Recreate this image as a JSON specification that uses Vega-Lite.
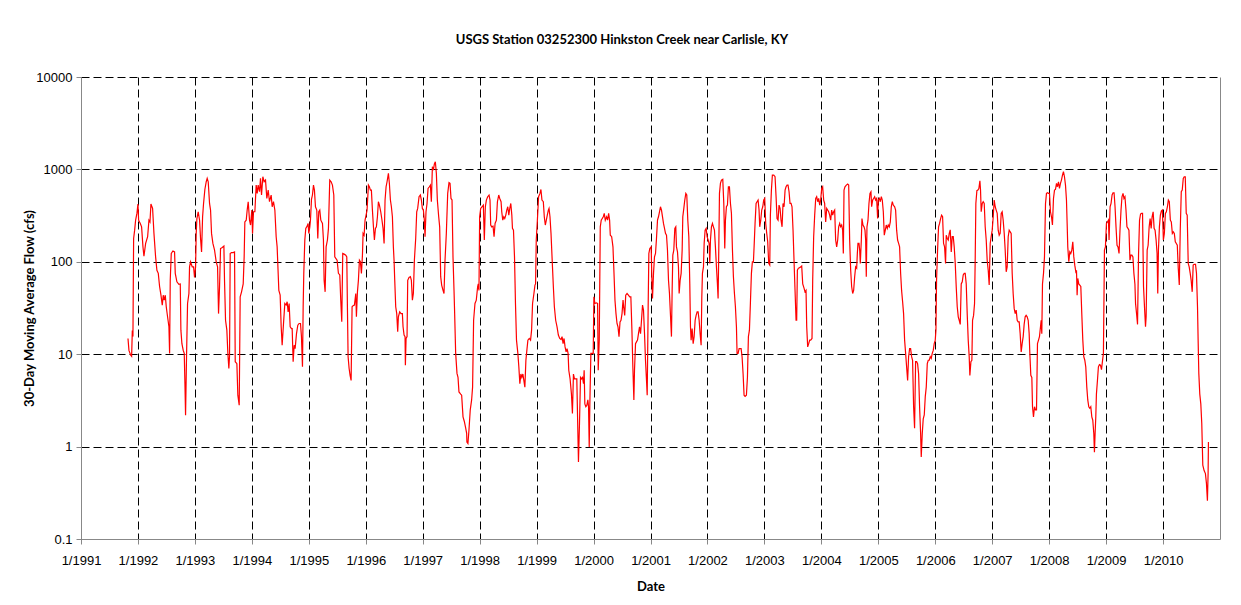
{
"$schema": "https://vega.github.io/schema/vega-lite/v6.json",
"width": 1139,
"height": 462,
"autosize": {"type": "none"},
"padding": {"left": 81, "top": 77, "right": 21, "bottom": 66},
"background": "white",
"title": {"text": "USGS Station 03252300 Hinkston Creek near Carlisle, KY", "font": "Lato", "fontSize": 13, "fontWeight": "bold", "color": "#000", "anchor": "middle", "frame": "bounds", "offset": 24},
"config": {"view": {"stroke": null}},
"data": {"values": [
{"year":1991.825,"flow":14.8},{"year":1991.842,"flow":11},{"year":1991.871,"flow":9.8},{"year":1991.889,"flow":9.5},{"year":1991.901,"flow":18},{"year":1991.912,"flow":15.5},{"year":1991.924,"flow":179},{"year":1991.942,"flow":220},{"year":1991.959,"flow":282},{"year":1991.982,"flow":334},{"year":1992.0,"flow":422},{"year":1992.012,"flow":282},{"year":1992.041,"flow":260},{"year":1992.064,"flow":239},{"year":1992.088,"flow":145},{"year":1992.105,"flow":115},{"year":1992.135,"flow":158},{"year":1992.17,"flow":187},{"year":1992.193,"flow":282},{"year":1992.211,"flow":270},{"year":1992.228,"flow":422},{"year":1992.257,"flow":378},{"year":1992.281,"flow":203},{"year":1992.31,"flow":113},{"year":1992.333,"flow":81},{"year":1992.357,"flow":75},{"year":1992.38,"flow":54},{"year":1992.404,"flow":43.5},{"year":1992.427,"flow":34},{"year":1992.444,"flow":43.5},{"year":1992.462,"flow":38.5},{"year":1992.48,"flow":43.5},{"year":1992.497,"flow":32.6},{"year":1992.52,"flow":25.4},{"year":1992.544,"flow":19.8},{"year":1992.556,"flow":10.2},{"year":1992.567,"flow":63},{"year":1992.585,"flow":123},{"year":1992.614,"flow":131},{"year":1992.643,"flow":128},{"year":1992.655,"flow":75},{"year":1992.684,"flow":60.7},{"year":1992.719,"flow":57},{"year":1992.743,"flow":57.6},{"year":1992.754,"flow":18.2},{"year":1992.772,"flow":13},{"year":1992.795,"flow":11},{"year":1992.813,"flow":10.2},{"year":1992.825,"flow":4.8},{"year":1992.836,"flow":2.18},{"year":1992.854,"flow":10.2},{"year":1992.871,"flow":35.4},{"year":1992.895,"flow":45.4},{"year":1992.906,"flow":88},{"year":1992.924,"flow":100},{"year":1992.953,"flow":88},{"year":1992.977,"flow":88},{"year":1992.994,"flow":67.6},{"year":1993.012,"flow":88},{"year":1993.023,"flow":203},{"year":1993.035,"flow":294},{"year":1993.058,"flow":348},{"year":1993.082,"flow":282},{"year":1993.099,"flow":179},{"year":1993.117,"flow":128},{"year":1993.135,"flow":307},{"year":1993.152,"flow":428},{"year":1993.175,"flow":606},{"year":1993.199,"flow":735},{"year":1993.216,"flow":800},{"year":1993.234,"flow":735},{"year":1993.257,"flow":428},{"year":1993.275,"flow":363},{"year":1993.292,"flow":203},{"year":1993.316,"flow":158},{"year":1993.345,"flow":134},{"year":1993.374,"flow":100},{"year":1993.398,"flow":88},{"year":1993.415,"flow":27.5},{"year":1993.433,"flow":54},{"year":1993.45,"flow":139},{"year":1993.48,"flow":143},{"year":1993.509,"flow":148},{"year":1993.52,"flow":63},{"year":1993.538,"flow":23.3},{"year":1993.561,"flow":18.2},{"year":1993.579,"flow":10.2},{"year":1993.596,"flow":7},{"year":1993.608,"flow":9.5},{"year":1993.62,"flow":123},{"year":1993.643,"flow":126},{"year":1993.673,"flow":126},{"year":1993.696,"flow":128},{"year":1993.708,"flow":8.3},{"year":1993.737,"flow":7.9},{"year":1993.754,"flow":3.6},{"year":1993.778,"flow":2.8},{"year":1993.795,"flow":41.8},{"year":1993.819,"flow":47.3},{"year":1993.848,"flow":57.6},{"year":1993.865,"flow":113},{"year":1993.877,"flow":270},{"year":1993.901,"flow":282},{"year":1993.918,"flow":363},{"year":1993.936,"flow":447},{"year":1993.959,"flow":282},{"year":1993.977,"flow":250},{"year":1994.0,"flow":363},{"year":1994.012,"flow":203},{"year":1994.029,"flow":348},{"year":1994.053,"flow":348},{"year":1994.076,"flow":676},{"year":1994.094,"flow":550},{"year":1994.111,"flow":676},{"year":1994.135,"flow":573},{"year":1994.152,"flow":800},{"year":1994.17,"flow":528},{"year":1994.193,"flow":833},{"year":1994.216,"flow":735},{"year":1994.24,"flow":766},{"year":1994.263,"flow":485},{"year":1994.287,"flow":597},{"year":1994.31,"flow":447},{"year":1994.339,"flow":528},{"year":1994.357,"flow":394},{"year":1994.38,"flow":447},{"year":1994.404,"flow":363},{"year":1994.427,"flow":187},{"year":1994.444,"flow":145},{"year":1994.474,"flow":49},{"year":1994.497,"flow":43.5},{"year":1994.515,"flow":19.8},{"year":1994.532,"flow":12.5},{"year":1994.556,"flow":21.5},{"year":1994.579,"flow":35.4},{"year":1994.602,"flow":34},{"year":1994.62,"flow":37},{"year":1994.637,"flow":28.7},{"year":1994.655,"flow":35.4},{"year":1994.673,"flow":19.8},{"year":1994.696,"flow":18.9},{"year":1994.708,"flow":18.9},{"year":1994.725,"flow":8.3},{"year":1994.743,"flow":12.5},
{"year":1994.76,"flow":11.5},{"year":1994.784,"flow":16.7},{"year":1994.807,"flow":20.6},{"year":1994.83,"flow":21.5},{"year":1994.854,"flow":21.5},{"year":1994.871,"flow":15.5},{"year":1994.889,"flow":7.3},{"year":1994.901,"flow":32.6},{"year":1994.912,"flow":75},{"year":1994.93,"flow":172},{"year":1994.947,"flow":230},{"year":1994.971,"flow":243},{"year":1994.988,"flow":260},{"year":1995.0,"flow":203},{"year":1995.018,"flow":239},{"year":1995.029,"flow":282},{"year":1995.047,"flow":473},{"year":1995.064,"flow":528},{"year":1995.082,"flow":676},{"year":1995.099,"flow":597},{"year":1995.117,"flow":394},{"year":1995.14,"flow":363},{"year":1995.158,"flow":179},{"year":1995.175,"flow":348},{"year":1995.193,"flow":363},{"year":1995.211,"flow":282},{"year":1995.24,"flow":260},{"year":1995.257,"flow":172},{"year":1995.269,"flow":63},{"year":1995.287,"flow":47.3},{"year":1995.304,"flow":145},{"year":1995.327,"flow":172},{"year":1995.345,"flow":230},{"year":1995.368,"flow":766},{"year":1995.392,"flow":735},{"year":1995.415,"flow":676},{"year":1995.439,"flow":528},{"year":1995.456,"flow":113},{"year":1995.474,"flow":109},{"year":1995.497,"flow":104},{"year":1995.52,"flow":75},{"year":1995.544,"flow":72},{"year":1995.561,"flow":38.5},{"year":1995.579,"flow":22.4},{"year":1995.596,"flow":123},{"year":1995.62,"flow":121},{"year":1995.649,"flow":118},{"year":1995.667,"flow":113},{"year":1995.678,"flow":32.6},{"year":1995.69,"flow":9.4},{"year":1995.708,"flow":7},{"year":1995.725,"flow":5.9},{"year":1995.743,"flow":5.2},{"year":1995.76,"flow":32.6},{"year":1995.778,"flow":33.5},{"year":1995.801,"flow":34},{"year":1995.825,"flow":45.4},{"year":1995.836,"flow":25.4},{"year":1995.854,"flow":47.3},{"year":1995.871,"flow":63},{"year":1995.889,"flow":104},{"year":1995.906,"flow":100},{"year":1995.924,"flow":75},{"year":1995.942,"flow":118},{"year":1995.953,"flow":203},{"year":1995.971,"flow":194},{"year":1995.988,"flow":282},{"year":1996.006,"flow":320},{"year":1996.023,"flow":363},{"year":1996.047,"flow":676},{"year":1996.064,"flow":649},{"year":1996.082,"flow":597},{"year":1996.099,"flow":597},{"year":1996.117,"flow":363},{"year":1996.135,"flow":239},{"year":1996.152,"flow":172},{"year":1996.17,"flow":230},{"year":1996.187,"flow":239},{"year":1996.205,"flow":307},{"year":1996.222,"flow":447},{"year":1996.24,"flow":411},{"year":1996.263,"flow":348},{"year":1996.281,"flow":294},{"year":1996.304,"flow":230},{"year":1996.322,"flow":158},{"year":1996.339,"flow":466},{"year":1996.357,"flow":649},{"year":1996.374,"flow":735},{"year":1996.398,"flow":906},{"year":1996.415,"flow":705},{"year":1996.433,"flow":466},{"year":1996.45,"flow":394},{"year":1996.468,"flow":307},{"year":1996.485,"flow":145},{"year":1996.497,"flow":104},{"year":1996.509,"flow":63},{"year":1996.526,"flow":32.6},{"year":1996.544,"flow":27.5},{"year":1996.561,"flow":17.5},{"year":1996.573,"flow":25.4},{"year":1996.596,"flow":28.7},{"year":1996.62,"flow":27.5},{"year":1996.643,"flow":27.5},{"year":1996.655,"flow":19.8},{"year":1996.673,"flow":16.1},{"year":1996.69,"flow":15.5},{"year":1996.696,"flow":7.6},{"year":1996.708,"flow":14.8},{"year":1996.725,"flow":15.5},{"year":1996.737,"flow":63},{"year":1996.76,"flow":67.6},{"year":1996.784,"flow":69},{"year":1996.801,"flow":63},{"year":1996.819,"flow":38.5},{"year":1996.836,"flow":45.4},{"year":1996.854,"flow":104},{"year":1996.877,"flow":179},{"year":1996.895,"flow":348},{"year":1996.912,"flow":378},{"year":1996.936,"flow":506},{"year":1996.959,"flow":528},{"year":1996.977,"flow":466},{"year":1996.994,"flow":378},{"year":1997.012,"flow":363},{"year":1997.029,"flow":282},{"year":1997.041,"flow":187},{"year":1997.058,"flow":348},{"year":1997.076,"flow":428},{"year":1997.094,"flow":622},{"year":1997.117,"flow":649},{"year":1997.135,"flow":676},{"year":1997.152,"flow":447},{"year":1997.17,"flow":1069},{"year":1997.187,"flow":984},{"year":1997.205,"flow":1143},{"year":1997.222,"flow":1211},{"year":1997.24,"flow":906},{"year":1997.257,"flow":466},{"year":1997.281,"flow":307},{"year":1997.298,"flow":239},{"year":1997.316,"flow":69},{"year":1997.333,"flow":56},{"year":1997.357,"flow":49},{"year":1997.374,"flow":45.4},{"year":1997.392,"flow":104},{"year":1997.415,"flow":203},{"year":1997.439,"flow":550},{"year":1997.462,"flow":718},{"year":1997.48,"flow":705},{"year":1997.497,"flow":485},{"year":1997.515,"flow":466},{"year":1997.532,"flow":113},{"year":1997.55,"flow":49},{"year":1997.561,"flow":27.5},{"year":1997.579,"flow":10.2},{"year":1997.602,"flow":6.2},{"year":1997.62,"flow":5.6},{"year":1997.637,"flow":3.9},{"year":1997.667,"flow":3.7},{"year":1997.684,"flow":3.6},{"year":1997.708,"flow":2.1},{"year":1997.731,"flow":1.87},{"year":1997.754,"flow":1.59},{"year":1997.772,"flow":1.39},
{"year":1997.776,"flow":1.12},{"year":1997.794,"flow":1.08},{"year":1997.812,"flow":1.5},{"year":1997.835,"flow":2.5},{"year":1997.859,"flow":3.2},{"year":1997.876,"flow":4.4},{"year":1997.894,"flow":23.3},{"year":1997.918,"flow":35.4},{"year":1997.941,"flow":38.5},{"year":1997.965,"flow":54},{"year":1997.976,"flow":57.6},{"year":1997.988,"flow":49},{"year":1998.0,"flow":307},{"year":1998.018,"flow":378},{"year":1998.041,"flow":394},{"year":1998.065,"flow":411},{"year":1998.082,"flow":172},{"year":1998.1,"flow":394},{"year":1998.118,"flow":466},{"year":1998.141,"flow":506},{"year":1998.165,"flow":528},{"year":1998.182,"flow":466},{"year":1998.194,"flow":250},{"year":1998.212,"flow":239},{"year":1998.235,"flow":243},{"year":1998.253,"flow":187},{"year":1998.271,"flow":260},{"year":1998.294,"flow":282},{"year":1998.312,"flow":447},{"year":1998.335,"flow":528},{"year":1998.353,"flow":485},{"year":1998.376,"flow":447},{"year":1998.388,"flow":348},{"year":1998.406,"flow":282},{"year":1998.424,"flow":307},{"year":1998.441,"flow":294},{"year":1998.459,"flow":320},{"year":1998.476,"flow":363},{"year":1998.494,"flow":394},{"year":1998.512,"flow":320},{"year":1998.529,"flow":378},{"year":1998.547,"flow":428},{"year":1998.565,"flow":320},{"year":1998.576,"flow":230},{"year":1998.594,"flow":220},{"year":1998.612,"flow":113},{"year":1998.629,"flow":35.4},{"year":1998.647,"flow":14.2},{"year":1998.671,"flow":10.2},{"year":1998.688,"flow":7.3},{"year":1998.706,"flow":4.8},{"year":1998.724,"flow":6.1},{"year":1998.741,"flow":5.6},{"year":1998.759,"flow":6.1},{"year":1998.776,"flow":5.2},{"year":1998.794,"flow":4.4},{"year":1998.812,"flow":8.6},{"year":1998.829,"flow":11},{"year":1998.847,"flow":14.2},{"year":1998.871,"flow":14.8},{"year":1998.894,"flow":14.2},{"year":1998.912,"flow":18.2},{"year":1998.929,"flow":35.4},{"year":1998.953,"flow":45.4},{"year":1998.971,"flow":56},{"year":1998.982,"flow":57.6},{"year":1998.994,"flow":172},{"year":1999.012,"flow":270},{"year":1999.035,"flow":506},{"year":1999.059,"flow":550},{"year":1999.076,"flow":606},{"year":1999.094,"flow":466},{"year":1999.118,"flow":447},{"year":1999.135,"flow":307},{"year":1999.153,"flow":250},{"year":1999.171,"flow":282},{"year":1999.188,"flow":320},{"year":1999.206,"flow":363},{"year":1999.218,"flow":378},{"year":1999.235,"flow":307},{"year":1999.253,"flow":203},{"year":1999.271,"flow":113},{"year":1999.294,"flow":54},{"year":1999.312,"flow":32.6},{"year":1999.335,"flow":23.3},{"year":1999.359,"flow":19.8},{"year":1999.382,"flow":16.1},{"year":1999.406,"flow":14.8},{"year":1999.429,"flow":14.4},{"year":1999.447,"flow":15.5},{"year":1999.465,"flow":13},{"year":1999.482,"flow":14.8},{"year":1999.5,"flow":12},{"year":1999.518,"flow":10.6},{"year":1999.535,"flow":11.5},{"year":1999.553,"flow":10.2},{"year":1999.565,"flow":6.7},{"year":1999.588,"flow":5.4},{"year":1999.612,"flow":3.7},{"year":1999.629,"flow":2.28},{"year":1999.647,"flow":6.1},{"year":1999.665,"flow":5.4},{"year":1999.682,"flow":5.4},{"year":1999.706,"flow":5.4},{"year":1999.724,"flow":1.5},{"year":1999.735,"flow":0.68},{"year":1999.753,"flow":1.77},{"year":1999.771,"flow":5.6},{"year":1999.788,"flow":5.4},{"year":1999.806,"flow":5.6},{"year":1999.824,"flow":4.8},{"year":1999.835,"flow":6.7},{"year":1999.847,"flow":2.9},{"year":1999.865,"flow":2.7},{"year":1999.882,"flow":2.8},{"year":1999.9,"flow":3.2},{"year":1999.912,"flow":2.7},{"year":1999.924,"flow":0.99},{"year":1999.935,"flow":2.9},{"year":1999.953,"flow":10.2},{"year":1999.971,"flow":10.2},{"year":1999.994,"flow":10.2},{"year":2000.006,"flow":41.8},{"year":2000.024,"flow":35.4},{"year":2000.047,"flow":36},{"year":2000.071,"flow":35.4},{"year":2000.082,"flow":6.7},{"year":2000.1,"flow":14.2},{"year":2000.118,"flow":239},{"year":2000.135,"flow":282},{"year":2000.153,"flow":294},{"year":2000.171,"flow":307},{"year":2000.188,"flow":334},{"year":2000.206,"flow":282},{"year":2000.229,"flow":307},{"year":2000.247,"flow":282},{"year":2000.265,"flow":334},{"year":2000.282,"flow":282},{"year":2000.294,"flow":194},{"year":2000.318,"flow":187},{"year":2000.341,"flow":145},{"year":2000.359,"flow":75},{"year":2000.376,"flow":38.5},{"year":2000.394,"flow":27.5},{"year":2000.412,"flow":21.5},{"year":2000.429,"flow":19.8},{"year":2000.447,"flow":15.5},{"year":2000.465,"flow":22.4},{"year":2000.482,"flow":23.3},{"year":2000.5,"flow":27.5},{"year":2000.518,"flow":38.5},{"year":2000.529,"flow":32.6},{"year":2000.547,"flow":26.3},{"year":2000.565,"flow":43.5},{"year":2000.588,"flow":45.4},{"year":2000.612,"flow":43.5},{"year":2000.635,"flow":41.8},
{"year":2000.655,"flow":41.8},{"year":2000.673,"flow":18.9},{"year":2000.69,"flow":7.3},{"year":2000.708,"flow":3.2},{"year":2000.719,"flow":6.7},{"year":2000.737,"flow":13},{"year":2000.754,"flow":13.6},{"year":2000.772,"flow":14.2},{"year":2000.789,"flow":16.7},{"year":2000.807,"flow":19.8},{"year":2000.825,"flow":16.7},{"year":2000.842,"flow":23.3},{"year":2000.86,"flow":34},{"year":2000.877,"flow":30.1},{"year":2000.895,"flow":16.7},{"year":2000.912,"flow":8.6},{"year":2000.93,"flow":5.2},{"year":2000.942,"flow":3.6},{"year":2000.959,"flow":32.6},{"year":2000.971,"flow":123},{"year":2000.988,"flow":139},{"year":2001.012,"flow":145},{"year":2001.023,"flow":69},{"year":2001.035,"flow":40},{"year":2001.053,"flow":75},{"year":2001.07,"flow":113},{"year":2001.088,"flow":123},{"year":2001.105,"flow":179},{"year":2001.123,"flow":282},{"year":2001.14,"flow":307},{"year":2001.158,"flow":348},{"year":2001.175,"flow":394},{"year":2001.193,"flow":363},{"year":2001.211,"flow":307},{"year":2001.228,"flow":260},{"year":2001.246,"flow":230},{"year":2001.263,"flow":203},{"year":2001.281,"flow":194},{"year":2001.298,"flow":134},{"year":2001.316,"flow":63},{"year":2001.333,"flow":45.4},{"year":2001.351,"flow":26.3},{"year":2001.368,"flow":15.5},{"year":2001.38,"flow":49},{"year":2001.392,"flow":118},{"year":2001.409,"flow":134},{"year":2001.427,"flow":230},{"year":2001.444,"flow":239},{"year":2001.456,"flow":145},{"year":2001.474,"flow":128},{"year":2001.491,"flow":88},{"year":2001.503,"flow":45.4},{"year":2001.52,"flow":63},{"year":2001.538,"flow":75},{"year":2001.556,"flow":134},{"year":2001.567,"flow":307},{"year":2001.585,"flow":378},{"year":2001.602,"flow":466},{"year":2001.62,"flow":550},{"year":2001.637,"flow":528},{"year":2001.655,"flow":282},{"year":2001.673,"flow":187},{"year":2001.69,"flow":57.6},{"year":2001.702,"flow":19.8},{"year":2001.713,"flow":14.2},{"year":2001.731,"flow":18.9},{"year":2001.749,"flow":13},{"year":2001.766,"flow":15.5},{"year":2001.784,"flow":23.3},{"year":2001.801,"flow":26.3},{"year":2001.819,"flow":28.7},{"year":2001.836,"flow":28.7},{"year":2001.854,"flow":23.3},{"year":2001.871,"flow":16.7},{"year":2001.889,"flow":12.5},{"year":2001.901,"flow":41.8},{"year":2001.912,"flow":75},{"year":2001.93,"flow":88},{"year":2001.942,"flow":158},{"year":2001.959,"flow":220},{"year":2001.977,"flow":230},{"year":2001.994,"flow":187},{"year":2002.012,"flow":172},{"year":2002.029,"flow":158},{"year":2002.041,"flow":96},{"year":2002.053,"flow":172},{"year":2002.07,"flow":239},{"year":2002.088,"flow":260},{"year":2002.105,"flow":239},{"year":2002.123,"flow":220},{"year":2002.14,"flow":145},{"year":2002.158,"flow":88},{"year":2002.175,"flow":57.6},{"year":2002.187,"flow":40},{"year":2002.199,"flow":134},{"year":2002.211,"flow":550},{"year":2002.228,"flow":705},{"year":2002.246,"flow":766},{"year":2002.269,"flow":780},{"year":2002.287,"flow":428},{"year":2002.304,"flow":139},{"year":2002.316,"flow":282},{"year":2002.333,"flow":394},{"year":2002.351,"flow":411},{"year":2002.368,"flow":649},{"year":2002.386,"flow":649},{"year":2002.404,"flow":428},{"year":2002.421,"flow":334},{"year":2002.439,"flow":134},{"year":2002.456,"flow":69},{"year":2002.474,"flow":45.4},{"year":2002.491,"flow":32.6},{"year":2002.509,"flow":19.8},{"year":2002.52,"flow":10.2},{"year":2002.538,"flow":10.2},{"year":2002.556,"flow":11.5},{"year":2002.573,"flow":11.5},{"year":2002.591,"flow":11.5},{"year":2002.608,"flow":9.4},{"year":2002.626,"flow":6.1},{"year":2002.643,"flow":3.6},{"year":2002.661,"flow":3.5},{"year":2002.684,"flow":3.6},{"year":2002.702,"flow":5.6},{"year":2002.719,"flow":15.5},{"year":2002.737,"flow":18.2},{"year":2002.754,"flow":35.4},{"year":2002.772,"flow":75},{"year":2002.789,"flow":100},{"year":2002.807,"flow":100},{"year":2002.819,"flow":145},{"year":2002.836,"flow":260},{"year":2002.854,"flow":428},{"year":2002.871,"flow":447},{"year":2002.889,"flow":466},{"year":2002.906,"flow":363},{"year":2002.918,"flow":239},{"year":2002.936,"flow":282},{"year":2002.953,"flow":363},{"year":2002.971,"flow":394},{"year":2002.988,"flow":466},{"year":2003.006,"flow":485},{"year":2003.023,"flow":260},{"year":2003.041,"flow":203},{"year":2003.058,"flow":165},{"year":2003.076,"flow":96},{"year":2003.094,"flow":92},{"year":2003.105,"flow":320},{"year":2003.123,"flow":597},{"year":2003.14,"flow":869},{"year":2003.164,"flow":869},{"year":2003.187,"flow":833},{"year":2003.205,"flow":506},{"year":2003.222,"flow":294},{"year":2003.24,"flow":282},{"year":2003.257,"flow":411},{"year":2003.275,"flow":378},{"year":2003.292,"flow":282},{"year":2003.31,"flow":239},{"year":2003.327,"flow":428},{"year":2003.345,"flow":394},{"year":2003.363,"flow":597},{"year":2003.38,"flow":649},{"year":2003.398,"flow":676},{"year":2003.415,"flow":676},{"year":2003.433,"flow":573},{"year":2003.45,"flow":428},{"year":2003.468,"flow":428},{"year":2003.485,"flow":394},{"year":2003.503,"flow":220},{"year":2003.52,"flow":104},{"year":2003.538,"flow":49},{"year":2003.556,"flow":23.3},{"year":2003.567,"flow":23.3},{"year":2003.579,"flow":81},{"year":2003.596,"flow":85},
{"year":2003.626,"flow":87},{"year":2003.655,"flow":90},{"year":2003.673,"flow":57.6},{"year":2003.696,"flow":52},{"year":2003.713,"flow":47.3},{"year":2003.731,"flow":49},{"year":2003.743,"flow":19.8},{"year":2003.76,"flow":12},{"year":2003.778,"flow":13},{"year":2003.795,"flow":14.2},{"year":2003.813,"flow":14.2},{"year":2003.836,"flow":14.8},{"year":2003.848,"flow":63},{"year":2003.865,"flow":187},{"year":2003.883,"flow":320},{"year":2003.901,"flow":485},{"year":2003.918,"flow":506},{"year":2003.936,"flow":447},{"year":2003.953,"flow":485},{"year":2003.971,"flow":411},{"year":2003.988,"flow":466},{"year":2004.006,"flow":622},{"year":2004.023,"flow":649},{"year":2004.041,"flow":466},{"year":2004.058,"flow":428},{"year":2004.076,"flow":270},{"year":2004.094,"flow":378},{"year":2004.111,"flow":363},{"year":2004.129,"flow":348},{"year":2004.146,"flow":320},{"year":2004.164,"flow":282},{"year":2004.181,"flow":363},{"year":2004.199,"flow":320},{"year":2004.216,"flow":348},{"year":2004.234,"flow":363},{"year":2004.251,"flow":172},{"year":2004.269,"flow":145},{"year":2004.287,"flow":172},{"year":2004.304,"flow":239},{"year":2004.322,"flow":260},{"year":2004.339,"flow":239},{"year":2004.357,"flow":250},{"year":2004.374,"flow":220},{"year":2004.386,"flow":123},{"year":2004.398,"flow":597},{"year":2004.415,"flow":649},{"year":2004.439,"flow":676},{"year":2004.462,"flow":693},{"year":2004.48,"flow":676},{"year":2004.497,"flow":172},{"year":2004.515,"flow":81},{"year":2004.532,"flow":54},{"year":2004.55,"flow":45.4},{"year":2004.567,"flow":49},{"year":2004.585,"flow":69},{"year":2004.602,"flow":88},{"year":2004.62,"flow":85},{"year":2004.632,"flow":123},{"year":2004.643,"flow":158},{"year":2004.661,"flow":158},{"year":2004.673,"flow":134},{"year":2004.684,"flow":96},{"year":2004.702,"flow":172},{"year":2004.713,"flow":294},{"year":2004.731,"flow":250},{"year":2004.749,"flow":239},{"year":2004.766,"flow":220},{"year":2004.778,"flow":172},{"year":2004.789,"flow":69},{"year":2004.801,"flow":239},{"year":2004.819,"flow":282},{"year":2004.836,"flow":428},{"year":2004.854,"flow":550},{"year":2004.871,"flow":573},{"year":2004.883,"flow":394},{"year":2004.901,"flow":466},{"year":2004.918,"flow":485},{"year":2004.936,"flow":506},{"year":2004.953,"flow":466},{"year":2004.971,"flow":485},{"year":2004.988,"flow":294},{"year":2005.0,"flow":466},{"year":2005.018,"flow":485},{"year":2005.035,"flow":447},{"year":2005.053,"flow":506},{"year":2005.07,"flow":466},{"year":2005.088,"flow":348},{"year":2005.105,"flow":194},{"year":2005.123,"flow":220},{"year":2005.14,"flow":250},{"year":2005.158,"flow":230},{"year":2005.175,"flow":250},{"year":2005.193,"flow":239},{"year":2005.211,"flow":270},{"year":2005.228,"flow":394},{"year":2005.246,"flow":447},{"year":2005.263,"flow":411},{"year":2005.287,"flow":394},{"year":2005.304,"flow":363},{"year":2005.322,"flow":220},{"year":2005.339,"flow":172},{"year":2005.357,"flow":158},{"year":2005.374,"flow":145},{"year":2005.392,"flow":75},{"year":2005.409,"flow":49},{"year":2005.427,"flow":37},{"year":2005.444,"flow":27.5},{"year":2005.462,"flow":14.2},{"year":2005.48,"flow":10.2},{"year":2005.497,"flow":7.3},{"year":2005.515,"flow":5.2},{"year":2005.532,"flow":9.4},{"year":2005.55,"flow":11.5},{"year":2005.567,"flow":11.5},{"year":2005.585,"flow":9.4},{"year":2005.602,"flow":8.6},{"year":2005.62,"flow":2.7},{"year":2005.637,"flow":1.58},{"year":2005.655,"flow":8.3},{"year":2005.673,"flow":8.3},{"year":2005.69,"flow":7.9},{"year":2005.708,"flow":6.1},{"year":2005.725,"flow":2.7},{"year":2005.743,"flow":1.39},{"year":2005.754,"flow":0.77},{"year":2005.772,"flow":1.39},{"year":2005.789,"flow":2.0},{"year":2005.807,"flow":2.2},{"year":2005.825,"flow":3.5},{"year":2005.842,"flow":4.4},{"year":2005.86,"flow":7.9},{"year":2005.877,"flow":8.6},{"year":2005.895,"flow":8.6},{"year":2005.912,"flow":9.4},{"year":2005.93,"flow":9.0},{"year":2005.947,"flow":10.2},{"year":2005.965,"flow":11},{"year":2005.982,"flow":13},{"year":2006.0,"flow":14.2},{"year":2006.012,"flow":18.2},{"year":2006.023,"flow":63},{"year":2006.041,"flow":134},{"year":2006.058,"flow":239},{"year":2006.076,"flow":260},{"year":2006.094,"flow":294},{"year":2006.111,"flow":320},{"year":2006.129,"flow":307},{"year":2006.146,"flow":158},{"year":2006.164,"flow":145},{"year":2006.181,"flow":96},{"year":2006.193,"flow":194},{"year":2006.211,"flow":179},{"year":2006.228,"flow":172},{"year":2006.246,"flow":203},{"year":2006.263,"flow":222},{"year":2006.281,"flow":128},{"year":2006.298,"flow":187},{"year":2006.316,"flow":187},{"year":2006.333,"flow":145},{"year":2006.351,"flow":96},{"year":2006.368,"flow":54},{"year":2006.386,"flow":32.6},{"year":2006.404,"flow":25.4},{"year":2006.421,"flow":23.3},{"year":2006.439,"flow":21},{"year":2006.456,"flow":57.6},{"year":2006.474,"flow":60.7},{"year":2006.491,"flow":72},{"year":2006.509,"flow":75},{"year":2006.526,"flow":75},{"year":2006.544,"flow":57.6},{"year":2006.561,"flow":27.5},{"year":2006.579,"flow":14.2},{"year":2006.596,"flow":9.4},
{"year":2006.608,"flow":5.9},{"year":2006.626,"flow":8.3},{"year":2006.643,"flow":8.6},{"year":2006.655,"flow":23.3},{"year":2006.673,"flow":26.3},{"year":2006.69,"flow":35.4},{"year":2006.702,"flow":113},{"year":2006.713,"flow":428},{"year":2006.731,"flow":588},{"year":2006.749,"flow":597},{"year":2006.766,"flow":622},{"year":2006.784,"flow":754},{"year":2006.795,"flow":597},{"year":2006.807,"flow":348},{"year":2006.825,"flow":428},{"year":2006.842,"flow":447},{"year":2006.86,"flow":428},{"year":2006.877,"flow":239},{"year":2006.895,"flow":172},{"year":2006.912,"flow":104},{"year":2006.93,"flow":81},{"year":2006.947,"flow":56},{"year":2006.965,"flow":158},{"year":2006.982,"flow":187},{"year":2007.0,"flow":220},{"year":2007.018,"flow":307},{"year":2007.035,"flow":466},{"year":2007.053,"flow":394},{"year":2007.07,"flow":363},{"year":2007.088,"flow":334},{"year":2007.105,"flow":220},{"year":2007.123,"flow":194},{"year":2007.14,"flow":203},{"year":2007.158,"flow":334},{"year":2007.175,"flow":348},{"year":2007.193,"flow":282},{"year":2007.211,"flow":203},{"year":2007.228,"flow":134},{"year":2007.246,"flow":78},{"year":2007.263,"flow":88},{"year":2007.281,"flow":187},{"year":2007.298,"flow":220},{"year":2007.316,"flow":211},{"year":2007.333,"flow":203},{"year":2007.351,"flow":75},{"year":2007.368,"flow":45.4},{"year":2007.386,"flow":31.3},{"year":2007.404,"flow":27.5},{"year":2007.421,"flow":30},{"year":2007.439,"flow":23.3},{"year":2007.456,"flow":22.4},{"year":2007.474,"flow":22.4},{"year":2007.491,"flow":16.7},{"year":2007.509,"flow":10.6},{"year":2007.526,"flow":13},{"year":2007.544,"flow":15.5},{"year":2007.561,"flow":21},{"year":2007.579,"flow":25.4},{"year":2007.596,"flow":26.3},{"year":2007.614,"flow":25.4},{"year":2007.632,"flow":23.3},{"year":2007.649,"flow":16.7},{"year":2007.661,"flow":10.2},{"year":2007.678,"flow":5.9},{"year":2007.696,"flow":5.6},{"year":2007.708,"flow":2.7},{"year":2007.725,"flow":2.1},{"year":2007.743,"flow":2.7},{"year":2007.76,"flow":2.5},{"year":2007.778,"flow":2.5},{"year":2007.795,"flow":13},{"year":2007.813,"flow":14.2},{"year":2007.83,"flow":15.5},{"year":2007.848,"flow":19.8},{"year":2007.86,"flow":23.3},{"year":2007.871,"flow":16.7},{"year":2007.883,"flow":57.6},{"year":2007.901,"flow":75},{"year":2007.918,"flow":113},{"year":2007.936,"flow":428},{"year":2007.953,"flow":550},{"year":2007.971,"flow":558},{"year":2007.988,"flow":550},{"year":2008.006,"flow":550},{"year":2008.023,"flow":348},{"year":2008.041,"flow":307},{"year":2008.058,"flow":250},{"year":2008.076,"flow":485},{"year":2008.094,"flow":597},{"year":2008.111,"flow":606},{"year":2008.129,"flow":705},{"year":2008.146,"flow":649},{"year":2008.164,"flow":735},{"year":2008.181,"flow":622},{"year":2008.199,"flow":705},{"year":2008.216,"flow":766},{"year":2008.234,"flow":869},{"year":2008.251,"flow":944},{"year":2008.269,"flow":833},{"year":2008.287,"flow":676},{"year":2008.304,"flow":466},{"year":2008.316,"flow":260},{"year":2008.327,"flow":145},{"year":2008.345,"flow":100},{"year":2008.363,"flow":128},{"year":2008.38,"flow":123},{"year":2008.398,"flow":134},{"year":2008.415,"flow":165},{"year":2008.433,"flow":113},{"year":2008.45,"flow":92},{"year":2008.468,"flow":78},{"year":2008.48,"flow":81},{"year":2008.491,"flow":43.5},{"year":2008.503,"flow":66},{"year":2008.52,"flow":57.6},{"year":2008.538,"flow":56},{"year":2008.556,"flow":54},{"year":2008.573,"flow":27.5},{"year":2008.591,"flow":14.2},{"year":2008.608,"flow":9.4},{"year":2008.626,"flow":8.6},{"year":2008.643,"flow":7.3},{"year":2008.661,"flow":4.4},{"year":2008.678,"flow":3.2},{"year":2008.696,"flow":2.7},{"year":2008.713,"flow":2.6},{"year":2008.731,"flow":2.7},{"year":2008.749,"flow":2.1},{"year":2008.766,"flow":1.93},{"year":2008.784,"flow":1.39},{"year":2008.795,"flow":0.87},{"year":2008.807,"flow":1.39},{"year":2008.819,"flow":2.1},{"year":2008.83,"flow":3.7},{"year":2008.848,"flow":5.2},{"year":2008.865,"flow":7.3},{"year":2008.883,"flow":7.7},{"year":2008.901,"flow":7.6},
{"year":2008.919,"flow":6.8},{"year":2008.942,"flow":9.0},{"year":2008.953,"flow":10.2},{"year":2008.971,"flow":134},{"year":2008.988,"flow":145},{"year":2009.006,"flow":260},{"year":2009.023,"flow":270},{"year":2009.041,"flow":282},{"year":2009.052,"flow":172},{"year":2009.07,"flow":394},{"year":2009.087,"flow":428},{"year":2009.105,"flow":528},{"year":2009.122,"flow":558},{"year":2009.14,"flow":558},{"year":2009.157,"flow":394},{"year":2009.174,"flow":239},{"year":2009.192,"flow":151},{"year":2009.209,"flow":145},{"year":2009.227,"flow":123},{"year":2009.244,"flow":220},{"year":2009.262,"flow":363},{"year":2009.279,"flow":506},{"year":2009.297,"flow":550},{"year":2009.314,"flow":485},{"year":2009.331,"flow":506},{"year":2009.349,"flow":363},{"year":2009.366,"flow":239},{"year":2009.384,"flow":230},{"year":2009.401,"flow":220},{"year":2009.419,"flow":104},{"year":2009.436,"flow":118},{"year":2009.453,"flow":118},{"year":2009.471,"flow":113},{"year":2009.488,"flow":75},{"year":2009.506,"flow":57.6},{"year":2009.517,"flow":35.4},{"year":2009.535,"flow":27.5},{"year":2009.552,"flow":21},{"year":2009.57,"flow":123},{"year":2009.587,"flow":282},{"year":2009.605,"flow":329},{"year":2009.622,"flow":334},{"year":2009.64,"flow":334},{"year":2009.657,"flow":54},{"year":2009.674,"flow":32.6},{"year":2009.692,"flow":19.8},{"year":2009.703,"flow":25.4},{"year":2009.721,"flow":134},{"year":2009.738,"flow":151},{"year":2009.756,"flow":239},{"year":2009.773,"flow":294},{"year":2009.791,"flow":230},{"year":2009.808,"flow":307},{"year":2009.826,"flow":348},{"year":2009.843,"flow":230},{"year":2009.86,"flow":220},{"year":2009.878,"flow":172},{"year":2009.895,"flow":123},{"year":2009.907,"flow":45.4},{"year":2009.919,"flow":134},{"year":2009.936,"flow":239},{"year":2009.953,"flow":320},{"year":2009.971,"flow":356},{"year":2009.988,"flow":363},{"year":2010.006,"flow":172},{"year":2010.023,"flow":203},{"year":2010.041,"flow":334},{"year":2010.058,"flow":348},{"year":2010.076,"flow":394},{"year":2010.093,"flow":466},{"year":2010.11,"flow":447},{"year":2010.128,"flow":282},{"year":2010.145,"flow":270},{"year":2010.163,"flow":203},{"year":2010.18,"flow":211},{"year":2010.198,"flow":203},{"year":2010.215,"flow":165},{"year":2010.233,"flow":158},{"year":2010.25,"flow":151},{"year":2010.267,"flow":85},{"year":2010.285,"flow":56},{"year":2010.302,"flow":220},{"year":2010.32,"flow":573},{"year":2010.337,"flow":597},{"year":2010.355,"flow":800},{"year":2010.372,"flow":833},{"year":2010.39,"flow":833},{"year":2010.407,"flow":334},{"year":2010.424,"flow":320},{"year":2010.442,"flow":96},{"year":2010.459,"flow":88},{"year":2010.477,"flow":75},{"year":2010.494,"flow":63},{"year":2010.512,"flow":47.3},{"year":2010.529,"flow":92},{"year":2010.547,"flow":94},{"year":2010.57,"flow":94},{"year":2010.587,"flow":75},{"year":2010.605,"flow":32.6},{"year":2010.616,"flow":14.2},{"year":2010.628,"flow":6.2},{"year":2010.645,"flow":3.7},{"year":2010.663,"flow":2.9},{"year":2010.68,"flow":1.77},{"year":2010.698,"flow":0.63},{"year":2010.721,"flow":0.55},{"year":2010.744,"flow":0.51},{"year":2010.762,"flow":0.4},{"year":2010.779,"flow":0.26},{"year":2010.791,"flow":0.51},{"year":2010.797,"flow":1.12}
]},
"encoding": {
"x": {"field": "year", "type": "quantitative", "scale": {"domain": [1991, 2011], "nice": false, "zero": false},
"axis": {"values": [1991,1992,1993,1994,1995,1996,1997,1998,1999,2000,2001,2002,2003,2004,2005,2006,2007,2008,2009,2010], "labelExpr": "'1/' + datum.value", "title": "Date", "domain": true, "grid": true, "gridColor": "#000", "gridDash": [8, 4], "gridWidth": 1, "domainColor": "#888", "tickColor": "#888", "tickSize": 5, "labelFont": "Liberation Sans", "labelFontSize": 13, "labelColor": "#000", "labelPadding": 10, "labelFlush": false, "labelOverlap": false, "titleFont": "Lato", "titleFontSize": 13, "titleFontWeight": "bold", "titleColor": "#000", "titlePadding": 13}}
},
"layer": [
{
"mark": {"type": "line", "color": "#ff0000", "strokeWidth": 1.2, "clip": true},
"encoding": {
"y": {"field": "flow", "type": "quantitative", "scale": {"type": "log", "domain": [0.1, 10000], "nice": false},
"axis": {"values": [0.1, 1, 10, 100, 1000, 10000], "format": "~g", "title": "30-Day Moving Average Flow (cfs)", "domain": true, "grid": true, "gridColor": "#000", "gridDash": [8, 4], "gridWidth": 1, "domainColor": "#888", "tickColor": "#888", "tickSize": 5, "labelFont": "Liberation Sans", "labelFontSize": 13, "labelColor": "#000", "labelPadding": 4, "labelFlush": false, "labelOverlap": false, "titleFont": "Lato", "titleFontSize": 13, "titleFontWeight": "bold", "titleColor": "#000", "titlePadding": -1}}
}
},
{
"mark": {"type": "line", "strokeOpacity": 0},
"encoding": {
"y": {"field": "flow", "type": "quantitative", "axis": {"orient": "right", "labels": false, "ticks": false, "grid": false, "title": null, "domain": true, "domainColor": "#888"}}
}
}
],
"resolve": {"axis": {"y": "independent"}}
}
